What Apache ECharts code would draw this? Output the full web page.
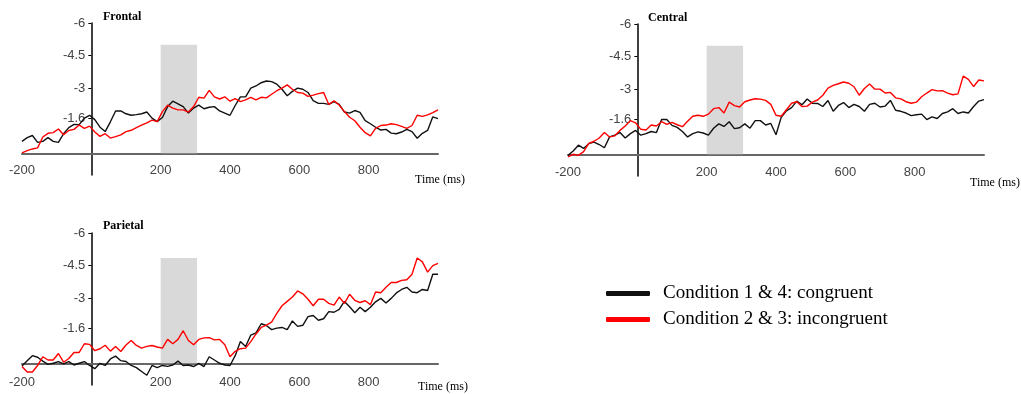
<!DOCTYPE html>
<html><head><meta charset="utf-8">
<script src="https://cdn.jsdelivr.net/npm/echarts@6/dist/echarts.min.js"></script>
<style>html,body{margin:0;padding:0;background:#fff}#c{width:1021px;height:394px}</style>
</head><body><div id="c"></div><script>
const times = [-200,-185,-170,-155,-140,-125,-110,-95,-80,-65,-50,-35,-20,-5,10,25,40,55,70,85,100,115,130,145,160,175,190,205,220,235,250,265,280,295,310,325,340,355,370,385,400,415,430,445,460,475,490,505,520,535,550,565,580,595,610,625,640,655,670,685,700,715,730,745,760,775,790,805,820,835,850,865,880,895,910,925,940,955,970,985,1000];

const frontalCong = [-0.55,-0.72,-0.82,-0.5,-0.55,-0.72,-0.55,-0.5,-0.9,-1.18,-1.33,-1.32,-1.62,-1.75,-1.55,-1.2,-1.0,-1.45,-1.95,-1.95,-1.82,-1.75,-1.78,-1.82,-1.9,-1.62,-1.46,-1.65,-2.15,-2.4,-2.28,-2.15,-1.85,-2.08,-2.22,-2.05,-2.12,-2.15,-1.95,-1.85,-1.75,-2.2,-2.6,-2.6,-3.0,-3.1,-3.25,-3.33,-3.3,-3.18,-2.95,-2.65,-2.85,-3.0,-2.95,-2.8,-2.42,-2.3,-2.3,-2.25,-2.38,-2.25,-1.9,-1.85,-1.97,-1.88,-1.5,-1.36,-1.2,-1.07,-1.1,-0.93,-0.9,-0.98,-1.1,-1.0,-0.69,-0.92,-1.05,-1.68,-1.6];
const frontalIncong = [-0.02,-0.12,-0.2,-0.25,-0.75,-0.92,-0.95,-1.12,-0.85,-1.05,-1.1,-1.3,-1.15,-1.25,-0.98,-0.78,-0.9,-0.7,-0.77,-0.85,-1.0,-1.06,-1.18,-1.3,-1.4,-1.53,-1.46,-1.92,-2.22,-2.08,-2.0,-2.0,-1.9,-2.15,-2.58,-2.54,-2.9,-2.6,-2.5,-2.6,-2.4,-2.52,-2.38,-2.46,-2.58,-2.46,-2.58,-2.55,-2.72,-2.88,-3.0,-3.15,-2.95,-2.8,-2.77,-2.62,-2.68,-2.75,-2.8,-2.25,-2.42,-2.22,-1.92,-1.66,-1.5,-1.2,-0.95,-0.8,-1.15,-1.28,-1.3,-1.36,-1.32,-1.24,-1.15,-1.28,-1.75,-1.7,-1.77,-1.87,-2.0];

const centralCong = [0.05,-0.15,-0.42,-0.27,-0.49,-0.56,-0.45,-0.3,-0.8,-0.88,-1.0,-0.75,-0.95,-1.1,-0.88,-0.95,-1.05,-1.0,-1.6,-1.6,-1.33,-1.24,-1.05,-0.8,-0.95,-1.03,-0.98,-0.88,-1.2,-1.4,-1.28,-1.5,-1.18,-1.22,-1.4,-1.2,-1.55,-1.55,-1.35,-1.42,-0.9,-1.7,-2.0,-2.15,-2.45,-2.28,-2.55,-2.35,-2.34,-2.2,-2.48,-1.98,-2.25,-2.38,-2.15,-2.3,-2.2,-1.98,-2.3,-2.35,-2.18,-2.22,-2.48,-2.03,-1.98,-1.9,-1.78,-1.82,-1.85,-1.6,-1.72,-1.65,-1.88,-1.95,-2.1,-1.88,-1.95,-1.9,-2.2,-2.45,-2.52];
const centralIncong = [0.12,0.0,0.05,-0.12,-0.5,-0.6,-0.75,-1.0,-0.8,-0.85,-1.1,-1.3,-1.55,-1.45,-1.15,-1.12,-1.35,-1.3,-1.5,-1.38,-1.47,-1.36,-1.27,-1.52,-1.75,-1.8,-1.75,-1.85,-2.1,-2.15,-1.9,-2.4,-2.24,-2.18,-2.42,-2.5,-2.56,-2.54,-2.48,-2.3,-1.8,-1.75,-2.05,-2.35,-2.42,-2.2,-2.22,-2.4,-2.5,-2.72,-3.05,-3.17,-3.25,-3.33,-3.27,-3.11,-2.72,-3.03,-3.24,-3.0,-3.0,-2.82,-2.85,-2.6,-2.55,-2.42,-2.35,-2.4,-2.65,-2.82,-2.98,-2.92,-2.93,-2.82,-2.74,-2.78,-3.6,-3.45,-3.12,-3.42,-3.38];

const parietalCong = [0.12,-0.12,-0.35,-0.28,-0.1,0.05,0.0,-0.08,0.03,-0.08,0.08,0.0,-0.08,0.1,0.25,0.0,0.1,-0.2,-0.33,-0.12,-0.08,0.1,0.2,0.38,0.55,0.1,0.2,0.1,0.14,0.08,-0.1,0.1,0.08,0.15,0.0,0.15,-0.3,-0.15,0.0,0.08,0.1,-0.35,-1.0,-0.77,-1.3,-1.4,-1.82,-1.74,-1.55,-1.62,-1.65,-1.55,-1.95,-1.7,-1.75,-2.15,-2.2,-1.98,-2.05,-2.38,-2.35,-2.48,-2.85,-2.6,-2.33,-2.58,-2.38,-2.58,-2.83,-2.99,-2.78,-2.99,-3.24,-3.4,-3.5,-3.28,-3.25,-3.4,-3.35,-4.1,-4.1];
const parietalIncong = [0.15,0.4,0.4,0.1,-0.3,-0.15,-0.15,-0.45,-0.05,-0.22,-0.5,-0.5,-0.9,-0.87,-0.58,-0.67,-0.83,-0.56,-0.77,-0.54,-0.84,-1.05,-0.82,-0.7,-0.78,-0.82,-0.75,-0.7,-1.1,-0.9,-1.1,-1.5,-1.05,-0.85,-1.1,-1.17,-1.18,-1.08,-1.1,-0.85,-0.3,-0.55,-0.67,-0.7,-1.0,-1.35,-1.65,-1.76,-1.9,-2.3,-2.65,-2.85,-3.05,-3.33,-3.2,-2.95,-2.65,-2.95,-2.95,-2.76,-2.68,-3.05,-2.76,-3.18,-2.9,-2.8,-2.88,-2.7,-3.28,-3.25,-3.5,-3.72,-3.72,-3.82,-3.85,-4.1,-4.85,-4.67,-4.2,-4.5,-4.6];

const panelNames = ['Frontal', 'Central', 'Parietal'];
const seriesNames = ['Condition 1 & 4: congruent', 'Condition 2 & 3: incongruent'];
const yTickLabels = [-6, -4.5, -3, -1.6];
const xTickLabels = [-200, 200, 400, 600, 800];
const windowStart = 200, windowEnd = 305;
const windowTop = [-5, -5, -4.85];
const panelData = [[frontalCong, frontalIncong], [centralCong, centralIncong], [parietalCong, parietalIncong]];

const X_MIN = -200, X_MAX = 1000, Y_MIN = -6, Y_MAX = 1;
const grids = [
  {left: 22, top: 23, width: 416, height: 152, outerBoundsMode: 'none', containLabel: false},
  {left: 568, top: 24, width: 416, height: 152, outerBoundsMode: 'none', containLabel: false},
  {left: 22, top: 233, width: 416, height: 152, outerBoundsMode: 'none', containLabel: false}
];
const colors = ['#111111', '#ff0000'];
const xLabelMargin = [11, 12, 13];

const xAxes = [], yAxes = [], series = [], titles = [];
const titlePos = [[103, 11], [648, 12], [103, 220]];
const timePos = [[415, 174], [970, 177], [418, 381]];

grids.forEach((g, i) => {
  // shift axes so that they cross at (0 ms, 0 µV)
  const xOffset = -g.height * (Y_MAX - 0) / (Y_MAX - Y_MIN);
  const yOffset = -g.width * (0 - X_MIN) / (X_MAX - X_MIN);
  xAxes.push({
    type: 'value', gridIndex: i, min: X_MIN, max: X_MAX, position: 'bottom', offset: xOffset,
    axisLine: {onZero: false, lineStyle: {color: '#666', width: 2}},
    axisTick: {show: false},
    splitLine: {show: false},
    axisLabel: {customValues: xTickLabels, color: '#444', fontSize: 13, fontFamily: 'Liberation Sans', margin: xLabelMargin[i]}
  });
  yAxes.push({
    type: 'value', gridIndex: i, min: Y_MIN, max: Y_MAX, inverse: true, position: 'left', offset: yOffset,
    axisLine: {show: true, onZero: false, lineStyle: {color: '#000', width: 1.5}},
    axisTick: {show: true, customValues: yTickLabels, length: 3, lineStyle: {color: '#000'}},
    splitLine: {show: false},
    axisLabel: {customValues: yTickLabels, color: '#444', fontSize: 13, fontFamily: 'Liberation Sans', margin: 6}
  });
  panelData[i].forEach((vals, k) => {
    const s = {
      type: 'line', name: seriesNames[k], xAxisIndex: i, yAxisIndex: i,
      data: times.map((t, j) => [t, vals[j]]),
      showSymbol: false, symbol: 'none',
      lineStyle: {color: colors[k], width: 1.4},
      itemStyle: {color: colors[k]},
      z: 3 + k, animation: false
    };
    if (k === 0) {
      s.markArea = {silent: true, itemStyle: {color: '#d9d9d9'},
        data: [[{xAxis: windowStart, yAxis: windowTop[i]}, {xAxis: windowEnd, yAxis: 0}]]};
    }
    series.push(s);
  });
  titles.push({text: panelNames[i], left: titlePos[i][0], top: titlePos[i][1], padding: 0,
    textStyle: {fontFamily: 'Liberation Serif', fontWeight: 'bold', fontSize: 12, color: '#000'}});
  titles.push({text: 'Time (ms)', left: timePos[i][0], top: timePos[i][1], padding: 0,
    textStyle: {fontFamily: 'Liberation Serif', fontWeight: 'normal', fontSize: 12, color: '#000'}});
});

const chart = echarts.init(document.getElementById('c'), null, {renderer: 'canvas'});
chart.setOption({
  animation: false,
  backgroundColor: '#fff',
  title: titles,
  grid: grids,
  xAxis: xAxes,
  yAxis: yAxes,
  legend: {
    data: seriesNames.map((n, k) => ({name: n, icon: 'roundRect', itemStyle: {color: colors[k]}})),
    orient: 'vertical', left: 606, top: 284, padding: 0,
    itemWidth: 44, itemHeight: 5, itemGap: 7,
    textStyle: {fontFamily: 'Liberation Serif', fontSize: 19, color: '#000', padding: [0, 0, 0, 8]},
    selectedMode: false
  },
  series: series
});
</script></body></html>
